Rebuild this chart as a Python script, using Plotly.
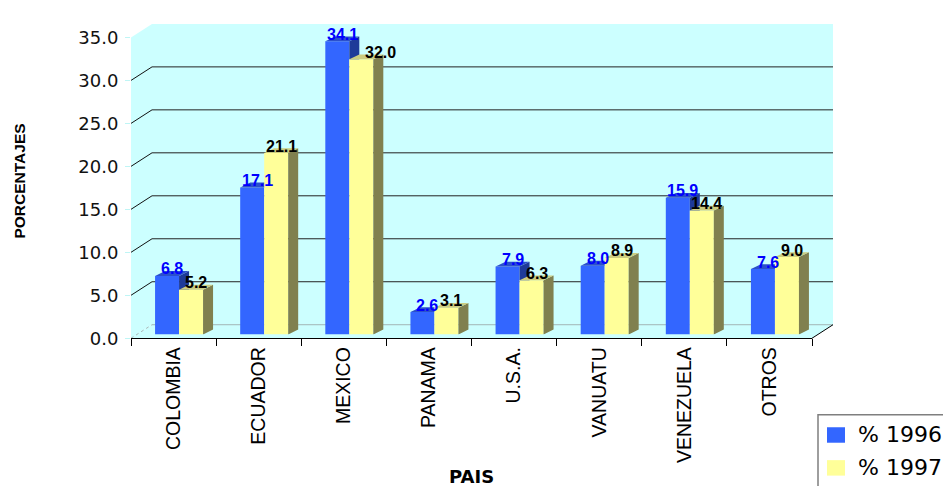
import plotly.graph_objects as go

# ---- data -----------------------------------------------------------------
paises = ["COLOMBIA", "ECUADOR", "MEXICO", "PANAMA", "U.S.A.",
          "VANUATU", "VENEZUELA", "OTROS"]
pct_1996 = [6.8, 17.1, 34.1, 2.6, 7.9, 8.0, 15.9, 7.6]
pct_1997 = [5.2, 21.1, 32.0, 3.1, 6.3, 8.9, 14.4, 9.0]
y_ticks = [0, 5, 10, 15, 20, 25, 30, 35]
series_names = ["% 1996", "% 1997"]

# ---- page geometry (pixels) -------------------------------------------------
FIG_W, FIG_H = 943, 486
ML, MR, MT, MB = 120, 100, 10, 140
PW = FIG_W - ML - MR
PH = FIG_H - MT - MB


def px_x(px):
    return (px - ML) / PW


def px_y(py):
    return (FIG_H - MB - py) / PH


# front edge of the 3-D box
FX0, FX1 = 131, 812
FY0, FY35 = 338, 27
N = len(paises)
CAT = (FX1 - FX0) / N            # pixels per category
UNIT = (FY0 - FY35) / 35.0       # pixels per percentage point
DX, DY = 21, 14                  # depth of the box (right / up)
BX, BY = 5.5, 4                  # bars stand slightly behind the front edge

# bar geometry in data units
W = 24 / CAT                     # width of one bar
DXU = 10 / CAT                   # bar depth, horizontal
DYU = 5 / UNIT                   # bar depth, vertical

C_BLUE, C_BLUE_TOP, C_BLUE_SIDE = "#3366FF", "#2B50CC", "#1E3A99"
C_YEL, C_YEL_TOP, C_YEL_SIDE = "#FFFF99", "#CCCC7F", "#80804F"
C_WALL = "#CCFFFF"

fig = go.Figure()

idx = list(range(N))

# front faces of the columns
fig.add_trace(go.Bar(x=idx, y=pct_1996, width=W, offset=-W, name=series_names[0],
                     marker=dict(color=C_BLUE, line=dict(width=0)),
                     xaxis="x", yaxis="y", showlegend=False, hoverinfo="skip"))
fig.add_trace(go.Bar(x=idx, y=pct_1997, width=W, offset=0, name=series_names[1],
                     marker=dict(color=C_YEL, line=dict(width=0)),
                     xaxis="x", yaxis="y", showlegend=False, hoverinfo="skip"))


def poly_trace(polys, color):
    xs, ys = [], []
    for p in polys:
        for a, b in p:
            xs.append(a)
            ys.append(b)
        xs.append(p[0][0])
        ys.append(p[0][1])
        xs.append(None)
        ys.append(None)
    return go.Scatter(x=xs, y=ys, mode="lines", fill="toself", fillcolor=color,
                      line=dict(width=0, color=color), hoverinfo="skip",
                      showlegend=False, xaxis="x", yaxis="y")


blue_side, blue_top, yel_side, yel_top = [], [], [], []
for k, (b, y) in enumerate(zip(pct_1996, pct_1997)):
    bl, br = k - W, k
    yl, yr = k, k + W
    # blue: only the parts not hidden by the yellow column in front of them
    if b > y:
        blue_side.append([(br, y), (br, b), (br + DXU, b + DYU), (br + DXU, y)])
        blue_top.append([(bl, b), (bl + DXU, b + DYU), (br + DXU, b + DYU), (br, b)])
    else:
        blue_top.append([(bl, b), (bl + DXU, b + DYU), (br, b + DYU), (br, b)])
    yel_side.append([(yr, 0), (yr, y), (yr + DXU, y + DYU), (yr + DXU, DYU)])
    yel_top.append([(yl, y), (yl + DXU, y + DYU), (yr + DXU, y + DYU), (yr, y)])

fig.add_trace(poly_trace(blue_side, C_BLUE_SIDE))
fig.add_trace(poly_trace(blue_top, C_BLUE_TOP))
fig.add_trace(poly_trace(yel_side, C_YEL_SIDE))
fig.add_trace(poly_trace(yel_top, C_YEL_TOP))

# invisible anchors so the front axes are drawn
fig.add_trace(go.Scatter(x=[0], y=[None], xaxis="x2", yaxis="y2",
                         showlegend=False, hoverinfo="skip"))
fig.add_trace(go.Scatter(x=[0], y=[None], xaxis="x3", yaxis="y2",
                         showlegend=False, hoverinfo="skip"))

# ---- walls of the box -------------------------------------------------------
shapes = []


def path(pts):
    s = "M " + " L ".join(f"{px_x(a):.5f},{px_y(b):.5f}" for a, b in pts) + " Z"
    return s


wall = dict(type="path", xref="paper", yref="paper", layer="below",
            fillcolor=C_WALL, line=dict(width=0))
# back wall
shapes.append(dict(wall, path=path([(FX0 + DX, FY35 - DY), (FX1 + DX, FY35 - DY),
                                    (FX1 + DX, FY0 - DY), (FX0 + DX, FY0 - DY)])))
# left side wall
shapes.append(dict(wall, path=path([(FX0, FY35), (FX0 + DX, FY35 - DY),
                                    (FX0 + DX, FY0 - DY), (FX0, FY0)])))
# floor
shapes.append(dict(wall, path=path([(FX0, FY0), (FX0 + DX, FY0 - DY),
                                    (FX1 + DX, FY0 - DY), (FX1, FY0)])))


def seg(p0, p1, color, width=1, dash="solid"):
    return dict(type="line", xref="paper", yref="paper", layer="below",
                x0=px_x(p0[0]), y0=px_y(p0[1]), x1=px_x(p1[0]), y1=px_y(p1[1]),
                line=dict(color=color, width=width, dash=dash))


for v in y_ticks:
    py = FY0 - v * UNIT
    if 0 < v < 35:
        shapes.append(seg((FX0 + DX, py - DY), (FX1 + DX, py - DY), "#222222"))
        shapes.append(seg((FX0, py), (FX0 + DX, py - DY), "#111111"))
    elif v == 0:
        shapes.append(seg((FX0 + DX, py - DY), (FX1 + DX, py - DY), "#9FB5B5"))
        shapes.append(seg((FX0, py), (FX0 + DX, py - DY), "#A8B8B8", dash="dot"))
shapes.append(seg((FX1, FY0), (FX1 + DX, FY0 - DY), "#000000"))

# ---- legend box -------------------------------------------------------------
LEG_X0, LEG_Y0 = 818, 417
shapes.append(dict(type="rect", xref="paper", yref="paper", layer="above",
                   x0=px_x(LEG_X0), y0=px_y(LEG_Y0), x1=px_x(FIG_W + 20), y1=px_y(FIG_H + 20),
                   fillcolor="white", line=dict(color="#7F7F7F", width=1.5)))
annotations = []
for i, (name, col) in enumerate(zip(series_names, [C_BLUE, C_YEL])):
    cy = 438 + 34 * i
    shapes.append(dict(type="rect", xref="paper", yref="paper", layer="above",
                       x0=px_x(827), x1=px_x(845), y0=px_y(cy - 8), y1=px_y(cy + 8),
                       fillcolor=col, line=dict(width=0)))
    annotations.append(dict(xref="paper", yref="paper", x=px_x(856), y=px_y(cy),
                            xanchor="left", yanchor="middle", showarrow=False,
                            text=name, font=dict(family="DejaVu Sans", size=22, color="#000")))

# ---- value labels -----------------------------------------------------------
label_nudge_1997 = {2: 14}
for k, (b, y) in enumerate(zip(pct_1996, pct_1997)):
    annotations.append(dict(xref="x", yref="y", x=k - W / 2 + DXU / 2, y=b,
                            yshift=7, xanchor="center", yanchor="middle",
                            showarrow=False, text=f"{b:.1f}",
                            font=dict(family="Liberation Sans", size=16,
                                      color="#0000FF", weight="bold")))
    annotations.append(dict(xref="x", yref="y", x=k + W / 2 + DXU / 2, y=y,
                            yshift=7, xshift=label_nudge_1997.get(k, 0),
                            xanchor="center", yanchor="middle",
                            showarrow=False, text=f"{y:.1f}",
                            font=dict(family="Liberation Sans", size=16,
                                      color="#000000", weight="bold")))

# ---- axis titles ------------------------------------------------------------
annotations.append(dict(xref="paper", yref="paper", x=px_x(20), y=px_y(176),
                        textangle=-90, showarrow=False, text="PORCENTAJES",
                        xanchor="center", yanchor="middle",
                        font=dict(family="Liberation Sans", size=15.5,
                                  color="#000", weight="bold")))
annotations.append(dict(xref="paper", yref="paper", x=px_x(471), y=px_y(468),
                        showarrow=False, text="PAIS", xanchor="center", yanchor="top",
                        font=dict(family="DejaVu Sans", size=18,
                                  color="#000", weight="bold")))

fig.update_layout(
    width=FIG_W, height=FIG_H,
    margin=dict(l=ML, r=MR, t=MT, b=MB, pad=0),
    paper_bgcolor="white", plot_bgcolor="rgba(0,0,0,0)",
    barmode="overlay", showlegend=False,
    shapes=shapes, annotations=annotations,
    # plane in which the columns stand
    xaxis=dict(domain=[px_x(FX0 + BX), px_x(FX1 + BX)], range=[-0.5, N - 0.5],
               visible=False, fixedrange=True),
    yaxis=dict(domain=[px_y(FY0 - BY), px_y(FY35 - BY)], range=[0, 35],
               visible=False, fixedrange=True),
    # front edge: tick marks and values
    xaxis2=dict(domain=[px_x(FX0), px_x(FX1)], range=[-0.5, N - 0.5], anchor="y2",
                tickvals=[k - 0.5 for k in range(N + 1)], showticklabels=False,
                ticks="outside", ticklen=7, tickcolor="#000", tickwidth=1,
                showline=True, linecolor="#000", linewidth=1,
                showgrid=False, zeroline=False, fixedrange=True),
    xaxis3=dict(overlaying="x2", anchor="y2", range=[-0.5, N - 0.5],
                tickvals=idx, ticktext=paises, tickangle=-90, ticks="",
                showline=False, showgrid=False, zeroline=False, fixedrange=True,
                tickfont=dict(family="Liberation Sans", size=19.5, color="#000"),
                ticklabelstandoff=4),
    yaxis2=dict(domain=[px_y(FY0), px_y(FY35)], range=[0, 35], anchor="x2",
                tickvals=y_ticks, tickformat=".1f", ticks="outside", ticklen=5,
                tickcolor="#BFF5F5", showline=False, showgrid=False, zeroline=False,
                tickfont=dict(family="DejaVu Sans", size=18, color="#111"),
                ticklabelstandoff=3, fixedrange=True),
)

fig.write_html("out.html")
